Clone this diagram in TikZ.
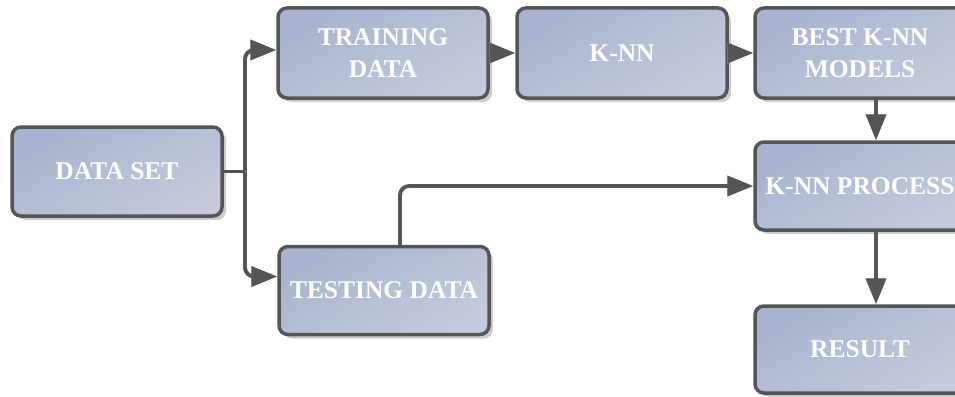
\documentclass[tikz,border=0pt]{standalone}
\usepackage{fontspec}
\setmainfont{Liberation Serif}
\usetikzlibrary{arrows.meta,shadows}
\definecolor{edge}{HTML}{555555}
\definecolor{fillA}{HTML}{A8B3CF}
\definecolor{fillB}{HTML}{C4CADB}
\definecolor{shd}{HTML}{CCCCCC}
\tikzset{
  box/.style={draw=edge, line width=3.5pt, rounded corners=9pt,
    top color=fillA, bottom color=fillB, shading angle=30,
    minimum width=210pt, inner sep=0pt, align=center,
    text=white, font=\bfseries\fontsize{25.5}{32}\selectfont,
    drop shadow={shadow xshift=4pt, shadow yshift=-4pt, fill=shd, opacity=1}},
  conn/.style={draw=edge, line width=3.8pt, rounded corners=9pt},
  arr/.style={conn, -{Triangle[length=26pt,width=20pt]}},
  shline/.style={draw=shd, line width=3.8pt, rounded corners=9pt},
  sharr/.style={shline, -{Triangle[length=26pt,width=20pt]}},
}
\begin{document}
\begin{tikzpicture}[x=1pt,y=-1pt]
\useasboundingbox (0,0) rectangle (955,396);
\begin{scope}
\clip (0,0) rectangle (955,396);
% nodes
\node[box, minimum height=89pt] (ds) at (117,171.5) {DATA SET};
\node[box, minimum height=90pt] (tr) at (383,53) {TRAINING\\DATA};
\node[box, minimum height=90pt] (knn) at (622,53) {K-NN};
\node[box, minimum height=90pt] (best) at (860,53) {BEST K-NN\\MODELS};
\node[box, minimum height=88pt] (proc) at (860,186) {K-NN PROCESS};
\node[box, minimum height=88pt] (test) at (384,290.5) {TESTING DATA};
\node[box, minimum height=87pt] (res) at (860,349.5) {RESULT};
\coordinate (j) at (245,171.5);
% shadows of connectors
\begin{scope}[shift={(4,4)}]
\draw[shline] (ds.east) -- (j);
\draw[sharr] (j) |- ([yshift=3pt]tr.west);
\draw[sharr] (j) |- ([yshift=14pt]test.west);
\draw[sharr] (tr.east) -- (knn.west);
\draw[sharr] (knn.east) -- (best.west);
\draw[sharr] ([xshift=16pt]best.south) -- ([xshift=16pt]best.south |- proc.north);
\draw[sharr] ([xshift=16pt]test.north) |- (proc.west);
\draw[sharr] ([xshift=16pt]proc.south) -- ([xshift=16pt]proc.south |- res.north);
\end{scope}
% connectors
\draw[conn] (ds.east) -- (j);
\draw[arr] (j) |- ([yshift=3pt]tr.west);
\draw[arr] (j) |- ([yshift=14pt]test.west);
\draw[arr] (tr.east) -- (knn.west);
\draw[arr] (knn.east) -- (best.west);
\draw[arr] ([xshift=16pt]best.south) -- ([xshift=16pt]best.south |- proc.north);
\draw[arr] ([xshift=16pt]test.north) |- (proc.west);
\draw[arr] ([xshift=16pt]proc.south) -- ([xshift=16pt]proc.south |- res.north);
\end{scope}
\end{tikzpicture}
\end{document}
